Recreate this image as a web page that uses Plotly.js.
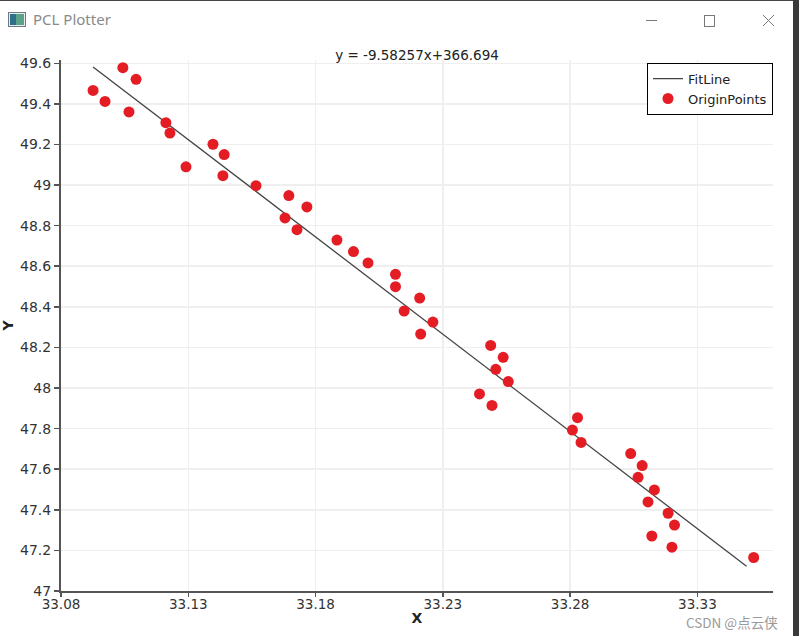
<!DOCTYPE html>
<html>
<head>
<meta charset="utf-8">
<script src="https://cdn.plot.ly/plotly-3.0.1.min.js"></script>
<style>
  html, body { margin: 0; padding: 0; background: #fff; width: 799px; height: 636px; overflow: hidden; }
  #chart { position: absolute; left: 0; top: 0; width: 799px; height: 636px; }
  #titlebar { position: absolute; left: 0; top: 0; width: 799px; height: 38px; background: #fff; border-top: 1px solid #444; box-sizing: border-box; }
  #tb-text { position: absolute; left: 33px; top: 8px; font-family: "Noto Sans", "Open Sans", sans-serif; font-size: 15px; color: #8a8a8a; }
  #rightedge { position: absolute; left: 793px; top: 0; width: 6px; height: 636px; background: #3a3a3a; }
  #watermark { position: absolute; left: 686px; top: 616px; line-height: 13px; font-family: "Noto Sans CJK SC", "Noto Sans", sans-serif; font-size: 13.5px; color: #9a9a9a; }
</style>
</head>
<body>
<div id="chart"></div>
<div id="titlebar">
  <svg width="799" height="38" style="position:absolute;left:0;top:0">
    <rect x="8.5" y="11.5" width="17" height="14" fill="#e8eef0" stroke="#6a7a80" stroke-width="1"/>
    <rect x="10" y="13" width="6" height="11" fill="#2f6f8a"/>
    <rect x="16" y="13" width="8" height="11" fill="#5aa28a"/>
    <line x1="646" y1="19.5" x2="657" y2="19.5" stroke="#777" stroke-width="1"/>
    <rect x="704.5" y="14.5" width="10" height="11" fill="none" stroke="#777" stroke-width="1"/>
    <line x1="763" y1="14" x2="774" y2="25" stroke="#777" stroke-width="1"/>
    <line x1="774" y1="14" x2="763" y2="25" stroke="#777" stroke-width="1"/>
  </svg>
  <div id="tb-text">PCL Plotter</div>
</div>
<div id="rightedge"></div>
<div id="watermark">CSDN @点云侠</div>
<script>
// Fitted line
const lineX = [33.0926, 33.3493];
const slope = -9.58257;
const intercept = 366.694;
const lineY = lineX.map(x => slope * x + intercept);

// Original points
const pointsX = [33.0926, 33.0973, 33.1043, 33.1095, 33.1067, 33.1212, 33.1228, 33.1291,
  33.1397, 33.1441, 33.1436, 33.1566, 33.1695, 33.1680, 33.1727, 33.1766,
  33.1884, 33.1949, 33.2006, 33.2114, 33.2114, 33.2148, 33.2209, 33.2213, 33.2261,
  33.2488, 33.2537, 33.2508, 33.2444, 33.2493, 33.2557,
  33.2829, 33.2809, 33.2843, 33.3038, 33.3083, 33.3067, 33.3131, 33.3106,
  33.3185, 33.3210, 33.3121, 33.3200, 33.3521];
const pointsY = [49.466, 49.412, 49.578, 49.521, 49.360, 49.307, 49.256, 49.090,
  49.201, 49.150, 49.046, 48.997, 48.948, 48.838, 48.780, 48.892,
  48.729, 48.672, 48.616, 48.560, 48.499, 48.379, 48.443, 48.266, 48.325,
  48.210, 48.151, 48.092, 47.971, 47.914, 48.032,
  47.854, 47.793, 47.732, 47.677, 47.618, 47.560, 47.498, 47.439,
  47.383, 47.325, 47.271, 47.216, 47.165];

const titleText = 'y = -9.58257x+366.694';
const xTickVals = [33.08, 33.13, 33.18, 33.23, 33.28, 33.33];
const xTickText = ['33.08', '33.13', '33.18', '33.23', '33.28', '33.33'];
const yTickVals = [47, 47.2, 47.4, 47.6, 47.8, 48, 48.2, 48.4, 48.6, 48.8, 49, 49.2, 49.4, 49.6];
const yTickText = ['47', '47.2', '47.4', '47.6', '47.8', '48', '48.2', '48.4', '48.6', '48.8', '49', '49.2', '49.4', '49.6'];

const font = 'DejaVu Sans, sans-serif';

const traces = [
  { x: lineX, y: lineY, mode: 'lines', name: 'FitLine',
    line: { color: '#444444', width: 1.3 } },
  { x: pointsX, y: pointsY, mode: 'markers', name: 'OriginPoints',
    marker: { color: '#e41d25', size: 11, symbol: 'circle' } }
];

const layout = {
  width: 799, height: 636,
  margin: { l: 61, r: 26, t: 60, b: 45 },
  paper_bgcolor: '#ffffff', plot_bgcolor: '#ffffff',
  font: { family: font, size: 14, color: '#333333' },
  title: { text: titleText, x: 0.5, xref: 'paper', xanchor: 'center', y: 1, yref: 'paper', yanchor: 'bottom', pad: { b: 0 },
    font: { family: font, size: 13.5, color: '#222222' } },
  showlegend: true,
  legend: { x: 1, xanchor: 'right', y: 0.995, yanchor: 'top', bordercolor: '#000000', borderwidth: 1,
    bgcolor: '#ffffff', font: { family: font, size: 13, color: '#222222' }, tracegroupgap: 0 },
  xaxis: {
    range: [33.08, 33.3597], tickvals: xTickVals, ticktext: xTickText,
    showline: true, linecolor: '#555555', linewidth: 2, zeroline: false,
    showgrid: true, gridcolor: '#efefef', gridwidth: 1.5,
    ticks: 'outside', ticklen: 4, tickcolor: '#555555', tickwidth: 1.5,
    ticklabelstandoff: -4,
    tickfont: { family: font, size: 13.5, color: '#333333' },
    title: { text: '<b>X</b>', standoff: 2, font: { family: font, size: 14, color: '#222222' } },
    automargin: false
  },
  yaxis: {
    range: [47, 49.616], tickvals: yTickVals, ticktext: yTickText,
    showline: true, linecolor: '#555555', linewidth: 2, zeroline: false,
    showgrid: true, gridcolor: '#efefef', gridwidth: 1.5,
    ticks: 'outside', ticklen: 5, tickcolor: '#555555', tickwidth: 1.5,
    tickfont: { family: font, size: 14, color: '#333333' },
    title: { text: '<b>Y</b>', standoff: 4, font: { family: font, size: 14, color: '#222222' } },
    automargin: false
  }
};

Plotly.newPlot('chart', traces, layout, { displayModeBar: false, staticPlot: true });
</script>
</body>
</html>
